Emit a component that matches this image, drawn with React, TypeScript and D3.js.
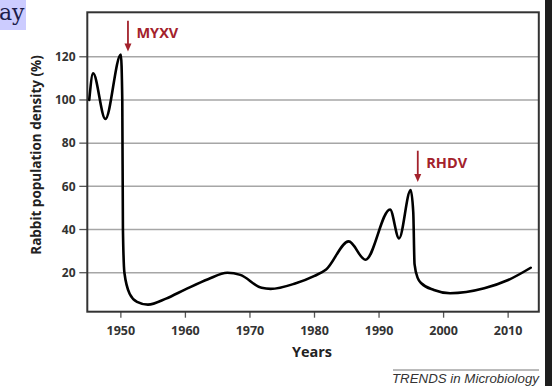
import React from "react";
import * as d3 from "d3";

const years = [1945.1, 1945.7, 1947.6, 1950.0, 1950.22, 1950.32, 1950.55, 1951.4, 1952.5, 1954.2, 1957, 1960, 1963.5, 1966.5, 1968.5, 1971.8, 1973.2, 1977, 1980, 1981.8, 1985.3, 1987.9, 1991.7, 1993.1, 1994.9, 1995.3, 1995.5, 1996.0, 1996.6, 1998.5, 2001, 2006.3, 2010, 2013.5];
const density = [100, 112.3, 91.2, 121, 100, 40, 20, 10, 6.5, 5.2, 8, 12.3, 17, 20, 19, 13, 12.5, 15, 18.5, 21.5, 34.5, 26, 49.3, 35.9, 58.3, 48, 24, 17.5, 15, 12, 10.5, 12.8, 16.6, 22.3];
const xTicks = [1950, 1960, 1970, 1980, 1990, 2000, 2010];
const yTicks = [20, 40, 60, 80, 100, 120];
const events = [
  { year: 1951.1, label: "MYXV", top: 136.7, bottom: 122.5 },
  { year: 1996.0, label: "RHDV", top: 76.5, bottom: 62 },
];

const W = 552;
const H = 386;
const left = 87.3;
const right = 538.8;
const top = 12.3;
const bottom = 311.7;
const font = "'Open Sans', 'Liberation Sans', sans-serif";
const red = "#a3222c";

export default function App() {
  const x = d3.scaleLinear().domain([1944.8, 2014.75]).range([left, right]);
  const y = d3.scaleLinear().domain([0, 140.6]).range([315.9, 12.3]);
  const line = d3
    .line<number>()
    .x((_, i) => x(years[i]))
    .y((d) => y(d))
    .curve(d3.curveMonotoneX);

  return (
    <svg
      width={W}
      height={H}
      style={{ position: "absolute", left: 0, top: 0, background: "#fff" }}
    >
      <rect x={0} y={0} width={W} height={H} fill="#fff" />
      {yTicks.map((t) => (
        <line key={t} x1={left} x2={right} y1={y(t)} y2={y(t)} stroke="#a6a6a6" strokeWidth={1.5} />
      ))}
      {yTicks.map((t) => (
        <g key={"yt" + t}>
          <line x1={left - 8} x2={left} y1={y(t)} y2={y(t)} stroke="#555" strokeWidth={1.3} />
          <text x={75.5} y={y(t)} dy="0.36em" textAnchor="end" fontFamily={font} fontWeight={700} fontSize={12} fill="#333">
            {t}
          </text>
        </g>
      ))}
      {xTicks.map((t) => (
        <g key={"xt" + t}>
          <line x1={x(t)} x2={x(t)} y1={bottom} y2={bottom + 6} stroke="#555" strokeWidth={1.3} />
          <text x={x(t)} y={334.5} textAnchor="middle" fontFamily={font} fontWeight={700} fontSize={12.5} fill="#333">
            {t}
          </text>
        </g>
      ))}
      <rect x={left} y={top} width={right - left} height={bottom - top} fill="none" stroke="#333" strokeWidth={2} />
      <path d={line(density) || ""} fill="none" stroke="#000" strokeWidth={2.6} strokeLinejoin="round" strokeLinecap="round" />
      {events.map((e) => (
        <g key={e.label}>
          <line x1={x(e.year)} x2={x(e.year)} y1={y(e.top)} y2={y(e.bottom) - 6} stroke={red} strokeWidth={1.8} />
          <path
            d={`M${x(e.year) - 3.5},${y(e.bottom) - 8} L${x(e.year) + 3.5},${y(e.bottom) - 8} L${x(e.year)},${y(e.bottom)} Z`}
            fill={red}
          />
          <text x={x(e.year) + 8.5} y={y(e.top) + 17.5} fontFamily={font} fontWeight={700} fontSize={14.5} fill={red}>
            {e.label}
          </text>
        </g>
      ))}
      <text
        transform={`translate(41,${155}) rotate(-90)`}
        textAnchor="middle"
        fontFamily={font}
        fontWeight={700}
        fontSize={13.5}
        fill="#222"
      >
        Rabbit population density (%)
      </text>
      <text x={312} y={356.5} textAnchor="middle" fontFamily={font} fontWeight={700} fontSize={14.5} fill="#222">
        Years
      </text>
      <line x1={393} x2={539} y1={370} y2={370} stroke="#777" strokeWidth={1} />
      <text x={539} y={383} textAnchor="end" fontFamily="'Liberation Sans', Arial, sans-serif" fontStyle="italic" fontSize={13.3} fill="#333">
        TRENDS in Microbiology
      </text>
      <rect x={0} y={0} width={26} height={30} fill="#ccccff" />
      <text x={-1} y={20} fontFamily="'DejaVu Serif', 'Liberation Serif', serif" fontSize={22} fill="#1c1c4a">
        ay
      </text>
      <rect x={545} y={0} width={7} height={H} fill="#1e1e1e" />
    </svg>
  );
}
